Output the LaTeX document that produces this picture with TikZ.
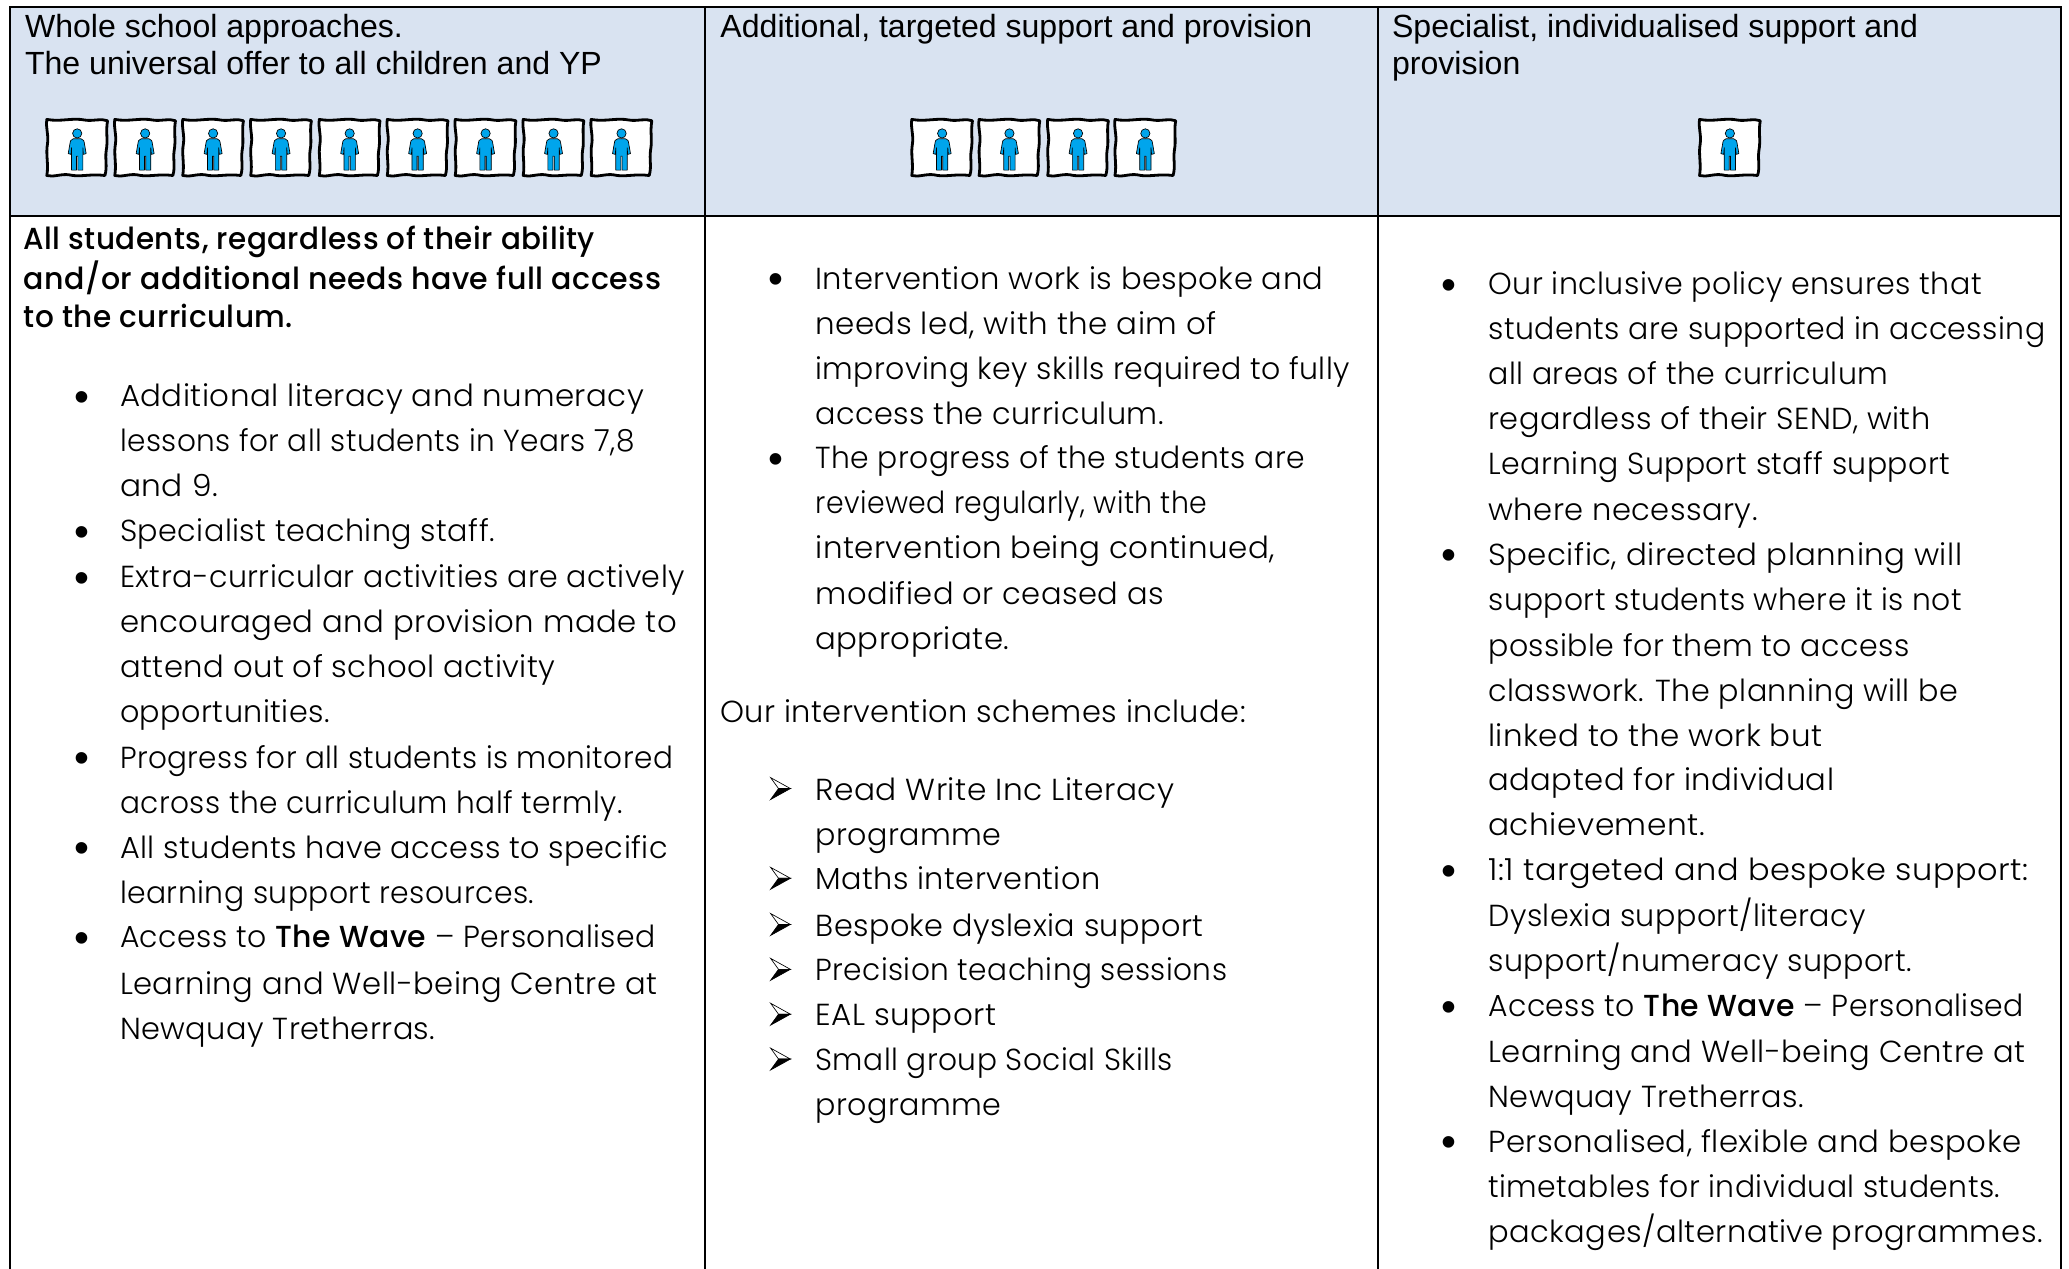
\documentclass[tikz,border=0pt]{standalone}
\usepackage{graphicx}
\usepackage{fontspec}
\setmainfont{Liberation Sans}
\newfontfamily\bodyf{Poppins}[UprightFont=* Light,BoldFont=* Medium,LetterSpace=1.5]
\definecolor{headblue}{HTML}{D9E3F1}
\definecolor{personblue}{HTML}{00A5EC}
\newcount\tn
\newcommand{\bodysize}{\fontsize{22.8}{24}\selectfont}
\newcommand{\headsize}{\fontsize{24.05}{24}\selectfont}
% x, y of the line's middle, right end, text
\newcommand{\tline}[4]{\global\advance\tn by 1 \node[textline,font=\bodyf\bodysize] (t\the\tn) at (#1,#2+8.4) {\resizebox{\dimexpr 0.98966pt*(#3-#1)\relax}{\height}{#4}};}
\newcommand{\bline}[4]{\global\advance\tn by 1 \node[textline,font=\bodyf\bodysize\bfseries] (t\the\tn) at (#1,#2+8.4) {\resizebox{\dimexpr 0.98966pt*(#3-#1)\relax}{\height}{#4}};}
\newcommand{\hdline}[3]{\global\advance\tn by 1 \node[textline,font=\headsize] (t\the\tn) at (#1,#2+8.6) {#3};}
\newcommand{\bul}[2]{\global\advance\tn by 1 \node[textline,font=\fontsize{32}{32}\selectfont] (t\the\tn) at (#1+1.4,#2+11.8) {•};}
\newcommand{\arw}[2]{\pic at (#1,#2-0.4) {arrowbullet};}
\tikzset{
  x=0.98966pt,y=-0.98966pt,
  textline/.style={anchor=base west,inner sep=0pt,outer sep=0pt},
  gridline/.style={draw=black,line width=1.5pt},
  arrowbullet/.pic={
    \path[fill=white,draw=black,line width=0.5pt,line join=miter]
      (0,-8.3) -- (15,0) -- (6,0) -- cycle;
    \path[fill=black,draw=black,line width=0.5pt,line join=miter]
      (0,8.3) -- (15,0) -- (6,0) -- cycle;
  },
  person/.pic={
    \path[fill=white,draw=black,line width=2.1pt,line join=round]
      (-23,-21.5) .. controls (-12,-19.5) and (-4,-23) .. (6,-21) .. controls (12,-20) and (18,-22.5) .. (23,-20.5)
      .. controls (21.5,-12) and (23.5,-6) .. (22,2) .. controls (21,9) and (23,14) .. (21,21)
      .. controls (10,19.5) and (2,22.5) .. (-6,20.5) .. controls (-12,19.5) and (-18,22.5) .. (-23,21)
      .. controls (-21.5,12) and (-24,5) .. (-22.5,-3) .. controls (-21.5,-10) and (-24,-15) .. (-23,-21.5) -- cycle;
    \path[fill=personblue,draw=black,line width=0.5pt,line join=round]
      (-3,-6.8) -- (3,-6.8) .. controls (5,-6.6) and (5.2,-5) .. (5.6,-2.5)
      -- (6.8,4.4) -- (4.7,5) -- (4.3,0) -- (4.3,16.9) -- (0.5,16.9) -- (0.5,6.3)
      -- (-0.5,6.3) -- (-0.5,16.9) -- (-4.3,16.9) -- (-4.3,0) -- (-4.7,5) -- (-6.8,4.4)
      -- (-5.6,-2.5) .. controls (-5.2,-5) and (-5,-6.6) .. (-3,-6.8) -- cycle;
    \path[fill=personblue,draw=black,line width=0.5pt] (0,-10.9) circle[radius=3.5];
  }
}
\begin{document}
\begin{tikzpicture}
\useasboundingbox (0,0) rectangle (1568,961.7);
\fill[white] (0,0) rectangle (1568,961.7);
\fill[headblue] (7.5,5) rectangle (1562,164);
% grid
\draw[gridline] (7.5,961.7) -- (7.5,5) -- (1562,5) -- (1562,961.7);
\draw[gridline] (7.5,164) -- (1562,164);
\draw[gridline] (534,5) -- (534,961.7);
\draw[gridline] (1044.5,5) -- (1044.5,961.7);
% header text
\hdline{19}{20}{Whole school approaches.}
\hdline{19}{48}{The universal offer to all children and YP}
\hdline{546}{20}{Additional, targeted support and provision}
\hdline{1055}{20}{Specialist, individualised support and}
\hdline{1055}{48}{provision}
% icons
\foreach \n/\cx in {a/58.5,b/110,c/161.5,d/213,e/265,f/316.5,g/368,h/419.5,i/471,j/714,k/765,l/817,m/868,n/1311}
  \pic (icon\n) at (\cx,112) {person};
% column 1
\bline{18}{181}{451}{All students, regardless of their ability}
\bline{18}{211}{501}{and/or additional needs have full access}
\bline{18}{240}{222}{to the curriculum.}
\bul{55}{300}\tline{91}{300}{488}{Additional literacy and numeracy}
\tline{91}{334}{481}{lessons for all students in Years 7,8}
\tline{91}{368}{165}{and 9.}
\bul{55}{402}\tline{91}{402}{375}{Specialist teaching staff.}
\bul{55}{437}\tline{91}{437}{519}{Extra-curricular activities are actively}
\tline{91}{471}{513}{encouraged and provision made to}
\tline{91}{505}{421}{attend out of school activity}
\tline{91}{539}{250}{opportunities.}
\bul{55}{574}\tline{91}{574}{510}{Progress for all students is monitored}
\tline{91}{608}{472}{across the curriculum half termly.}
\bul{55}{642}\tline{91}{642}{506}{All students have access to specific}
\tline{91}{676}{405}{learning support resources.}
\bul{55}{710}\tline{91}{710}{497}{Access to \textbf{The Wave} – Personalised}
\tline{91}{745}{498}{Learning and Well-being Centre at}
\tline{91}{779}{330}{Newquay Tretherras.}
% column 2
\bul{581}{211}\tline{618}{211}{1003}{Intervention work is bespoke and}
\tline{618}{245}{922}{needs led, with the aim of}
\tline{618}{279}{1023}{improving key skills required to fully}
\tline{618}{313}{882}{access the curriculum.}
\bul{581}{347}\tline{618}{347}{989}{The progress of the students are}
\tline{618}{381}{915}{reviewed regularly, with the}
\tline{618}{415}{966}{intervention being continued,}
\tline{618}{450}{882}{modified or ceased as}
\tline{618}{484}{765}{appropriate.}
\tline{546}{539}{944}{Our intervention schemes include:}
\arw{584}{598}\tline{618}{598}{890}{Read Write Inc Literacy}
\tline{618}{632}{759}{programme}
\arw{584}{666}\tline{618}{666}{834}{Maths intervention}
\arw{584}{701}\tline{618}{701}{912}{Bespoke dyslexia support}
\arw{584}{735}\tline{618}{735}{930}{Precision teaching sessions}
\arw{584}{769}\tline{618}{769}{755}{EAL support}
\arw{584}{803}\tline{618}{803}{889}{Small group Social Skills}
\tline{618}{837}{759}{programme}
% column 3
\bul{1091}{215}\tline{1128}{215}{1502}{Our inclusive policy ensures that}
\tline{1128}{249}{1550}{students are supported in accessing}
\tline{1128}{283}{1431}{all areas of the curriculum}
\tline{1128}{317}{1463}{regardless of their SEND, with}
\tline{1128}{351}{1478}{Learning Support staff support}
\tline{1128}{386}{1332}{where necessary.}
\bul{1091}{420}\tline{1128}{420}{1487}{Specific, directed planning will}
\tline{1128}{454}{1487}{support students where it is not}
\tline{1128}{489}{1447}{possible for them to access}
\tline{1128}{523}{1484}{classwork. The planning will be}
\tline{1128}{557}{1381}{linked to the work but}
\tline{1128}{591}{1390}{adapted for individual}
\tline{1128}{625}{1292}{achievement.}
\bul{1091}{659}\tline{1128}{659}{1537}{1:1 targeted and bespoke support:}
\tline{1128}{694}{1414}{Dyslexia support/literacy}
\tline{1128}{728}{1449}{support/numeracy support.}
\bul{1091}{762}\tline{1128}{762}{1534}{Access to \textbf{The Wave} – Personalised}
\tline{1128}{797}{1535}{Learning and Well-being Centre at}
\tline{1128}{831}{1367}{Newquay Tretherras.}
\bul{1091}{865}\tline{1128}{865}{1532}{Personalised, flexible and bespoke}
\tline{1128}{899}{1516}{timetables for individual students.}
\tline{1128}{933}{1548}{packages/alternative programmes.}
\end{tikzpicture}
\end{document}
